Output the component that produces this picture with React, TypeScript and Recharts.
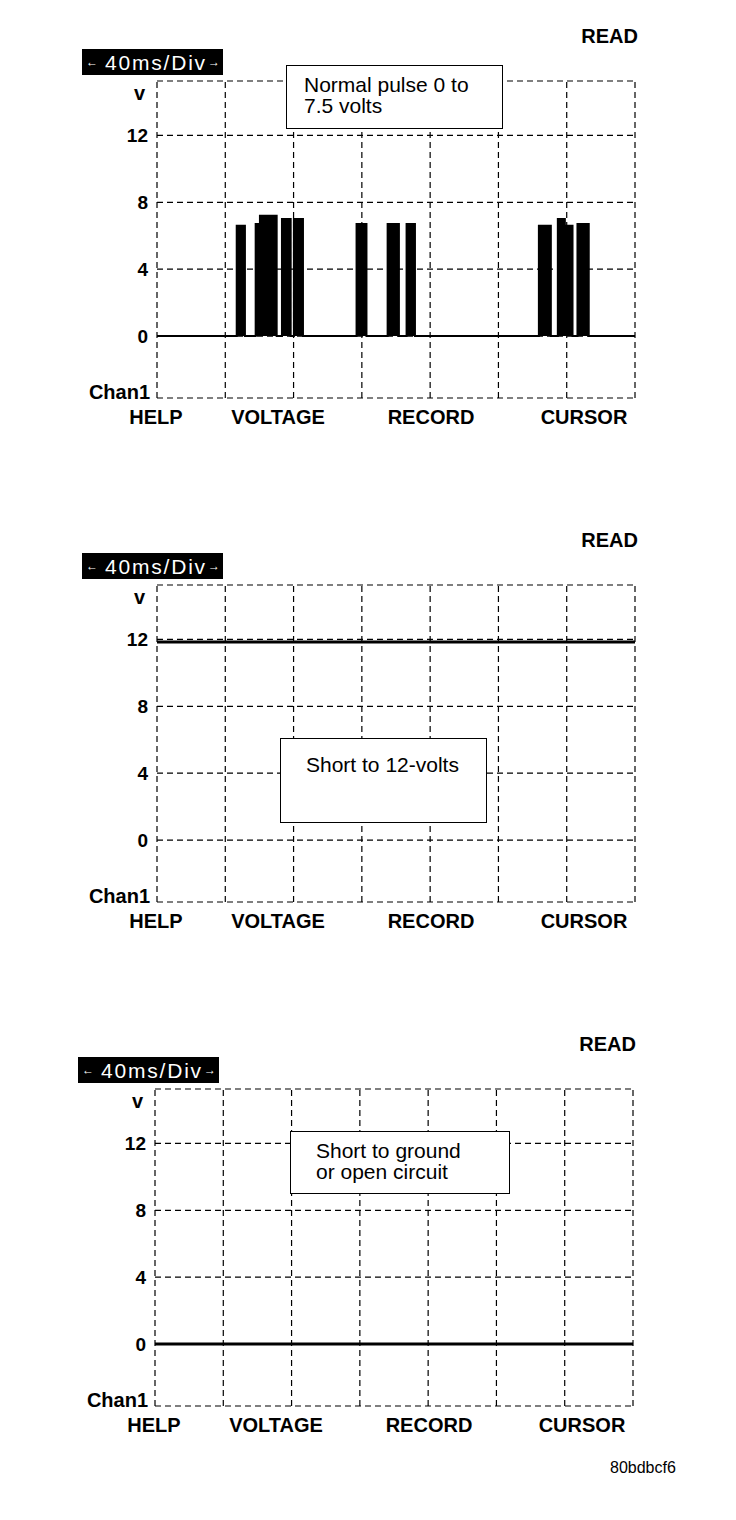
import { ComposedChart, Area, Line, XAxis, YAxis, ReferenceLine } from 'recharts'

// scope screen: 7 divisions of 40 ms, volts axis
const timeDivs = [0, 40, 80, 120, 160, 200, 240, 280]
const voltTicks = [0, 4, 8, 12]
const voltRange = [-3.7, 15.25]
const menuLabels = ['HELP', 'VOLTAGE', 'RECORD', 'CURSOR']

// normal pulse train (step trace), ms / volts
const pulseTimes = [0, 46.7, 51.5, 57.8, 60.3, 70.1, 73.2, 78.3, 80.2, 85.5, 116.9, 122.7, 135.1, 141.7, 146.2, 151.1, 223.7, 230.7, 234.8, 238.9, 243.4, 246.3, 252.9, 280]
const pulseVolts = [0, 6.6, 0, 6.7, 7.2, 0, 7.0, 0, 7.0, 0, 6.7, 0, 6.7, 0, 6.7, 0, 6.6, 0, 7.0, 6.6, 0, 6.7, 0, 0]

// shorted to 12 volts
const highTimes = [0, 280]
const highVolts = [11.85, 11.85]

// shorted to ground / open
const groundTimes = [0, 280]
const groundVolts = [0, 0]

const FONT = '"Liberation Sans", Arial, sans-serif'

const toRows = (times: number[], volts: number[]) => times.map((t, i) => ({ t, v: volts[i] }))

interface ScopeProps {
  shift: number
  rows: { t: number; v: number }[]
  filled: boolean
  noteLines: string[]
  noteBox: { left: number; top: number; width: number; height: number; padLeft: number; padTop: number }
}

function Scope({ shift, rows, filled, noteLines, noteBox }: ScopeProps) {
  const dash = '6 4'
  const menuCenters = [156, 278, 431, 584]
  return (
    <div style={{ position: 'relative', width: 736, height: 504, fontFamily: FONT, color: '#000' }}>
      <ComposedChart
        width={736}
        height={504}
        data={rows}
        margin={{ top: 81, right: 101 - shift, bottom: 106, left: 117 + shift }}
      >
        <XAxis type="number" dataKey="t" domain={[timeDivs[0], timeDivs[timeDivs.length - 1]]} hide />
        <YAxis
          type="number"
          domain={voltRange}
          ticks={voltTicks}
          width={40}
          axisLine={false}
          tickLine={false}
          tickMargin={3}
          tick={{ fill: '#000', fontSize: 19, fontWeight: 700, fontFamily: FONT }}
        />
        {timeDivs.map((t) => (
          <ReferenceLine key={'x' + t} x={t} stroke="#000" strokeWidth={1.2} strokeDasharray={dash} />
        ))}
        {[voltRange[0], ...voltTicks, voltRange[1]].map((v) => (
          <ReferenceLine key={'y' + v} y={v} stroke="#000" strokeWidth={1.2} strokeDasharray={dash} />
        ))}
        {filled ? (
          <Area
            type="stepAfter"
            dataKey="v"
            stroke="#000"
            strokeWidth={2}
            fill="#000"
            fillOpacity={1}
            baseValue={0}
            isAnimationActive={false}
          />
        ) : (
          <Line type="linear" dataKey="v" stroke="#000" strokeWidth={3} dot={false} isAnimationActive={false} />
        )}
      </ComposedChart>

      <div style={{ position: 'absolute', right: 98 - shift, top: 26, fontSize: 20, lineHeight: '20px', fontWeight: 700 }}>
        READ
      </div>
      <div
        style={{
          position: 'absolute', left: 82 + shift * 2, top: 49, width: 141, height: 26,
          background: '#000', color: '#fff',
        }}
      >
        <span style={{ position: 'absolute', left: 4, top: 5, fontSize: 12, lineHeight: '16px' }}>←</span>
        <span style={{ position: 'absolute', left: 23, top: 3, fontSize: 21, lineHeight: '21px', letterSpacing: 1.8 }}>40ms/Div</span>
        <span style={{ position: 'absolute', left: 126, top: 5, fontSize: 12, lineHeight: '16px' }}>→</span>
      </div>

      <div style={{ position: 'absolute', right: 736 - 145 - shift, top: 83, fontSize: 20, lineHeight: '20px', fontWeight: 700 }}>v</div>
      <div style={{ position: 'absolute', right: 736 - 150 - shift, top: 382, fontSize: 20, lineHeight: '20px', fontWeight: 700 }}>Chan1</div>

      {menuLabels.map((m, i) => (
        <div
          key={m}
          style={{
            position: 'absolute', left: menuCenters[i] + shift - 60, width: 120, top: 407,
            textAlign: 'center', fontSize: 20, lineHeight: '20px', fontWeight: 700,
          }}
        >
          {m}
        </div>
      ))}

      <div
        style={{
          position: 'absolute', left: noteBox.left, top: noteBox.top, width: noteBox.width, height: noteBox.height,
          boxSizing: 'border-box', border: '1.5px solid #000', background: '#fff',
          paddingLeft: noteBox.padLeft, paddingTop: noteBox.padTop, fontSize: 21, lineHeight: '21px',
        }}
      >
        {noteLines.map((l) => (
          <div key={l}>{l}</div>
        ))}
      </div>
    </div>
  )
}

export default function App() {
  return (
    <div style={{ position: 'absolute', left: 0, top: 0, width: 736, height: 1520, background: '#fff' }}>
      <Scope
        shift={0}
        rows={toRows(pulseTimes, pulseVolts)}
        filled
        noteLines={['Normal pulse 0 to', '7.5 volts']}
        noteBox={{ left: 286, top: 65, width: 217, height: 64, padLeft: 17, padTop: 8 }}
      />
      <Scope
        shift={0}
        rows={toRows(highTimes, highVolts)}
        filled={false}
        noteLines={['Short to 12-volts']}
        noteBox={{ left: 280, top: 234, width: 207, height: 85, padLeft: 25, padTop: 15 }}
      />
      <Scope
        shift={-2}
        rows={toRows(groundTimes, groundVolts)}
        filled={false}
        noteLines={['Short to ground', 'or open circuit']}
        noteBox={{ left: 290, top: 123, width: 220, height: 63, padLeft: 25, padTop: 8 }}
      />
      <div style={{ position: 'absolute', left: 610, top: 1459, fontFamily: FONT, fontSize: 16, lineHeight: '18px' }}>
        80bdbcf6
      </div>
    </div>
  )
}
